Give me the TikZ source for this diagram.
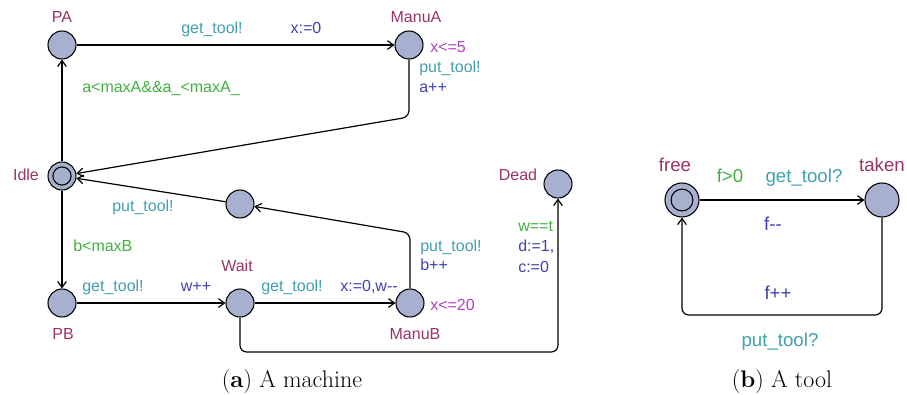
\documentclass[tikz,border=0pt]{standalone}
\usepackage{fontspec}
\usepackage{xcolor}
\newfontfamily\uppfont{Liberation Sans}
\usetikzlibrary{arrows.meta}

\definecolor{locfill}{HTML}{A8B0D0}
\definecolor{locname}{HTML}{993366}
\definecolor{synccol}{HTML}{40A0B0}
\definecolor{updcol}{HTML}{4040B0}
\definecolor{guardcol}{HTML}{40B040}
\definecolor{invcol}{HTML}{B040C0}

\begin{document}
\begin{tikzpicture}[x=0.75pt,y=-0.75pt,
  loc/.style={circle, draw=black, fill=locfill, line width=0.8pt, minimum size=21pt, inner sep=0pt},
  bigloc/.style={loc, minimum size=25.5pt},
  txt/.style={font=\uppfont\fontsize{12}{14}\selectfont, inner sep=0pt, text height=8.6pt, text depth=2.5pt},
  lname/.style={txt, text=locname},
  sync/.style={txt, text=synccol},
  upd/.style={txt, text=updcol},
  guard/.style={txt, text=guardcol},
  inv/.style={txt, text=invcol},
  caption/.style={font=\fontsize{18}{21}\selectfont},
  trans/.style={draw=black, line width=0.9pt, rounded corners=5pt, -{Straight Barb[length=4.5pt,width=6.5pt]}}]
  % Fix the page size
  \useasboundingbox (0,0) rectangle (907,394);

  % Locations of the machine
  \node[loc] (PA) at (62,45) {};
  \node[loc] (ManuA) at (409,45) {};
  \node[loc] (Idle) at (62,176) {};
  \draw[line width=0.8pt] (Idle.center) circle (6.8pt);
  \node[loc] (Back) at (240,204) {};
  \node[loc] (Dead) at (558,184) {};
  \node[loc] (PB) at (62,303) {};
  \node[loc] (Wait) at (240,303) {};
  \node[loc] (ManuB) at (410,303) {};

  \node[lname] (nPA) at (62,18) {PA};
  \node[lname] (nManuA) at (416,18) {ManuA};
  \node[lname] (nIdle) at (26,176) {Idle};
  \node[lname] (nDead) at (518,176) {Dead};
  \node[lname] (nPB) at (63,335) {PB};
  \node[lname] (nWait) at (237,267) {Wait};
  \node[lname] (nManuB) at (415,335) {ManuB};

  % Transitions of the machine
  \coordinate (kA) at (409,117);
  \coordinate (kB) at (410,233);
  \coordinate (kC) at (240,352);
  \draw[trans] (PA) -- (ManuA);
  \draw[trans] (ManuA) -- (kA) -- (Idle);
  \draw[trans] (Idle) -- (PA);
  \draw[trans] (Idle) -- (PB);
  \draw[trans] (PB) -- (Wait);
  \draw[trans] (Wait) -- (ManuB);
  \draw[trans] (ManuB) -- (kB) -- (Back);
  \draw[trans] (Back) -- (Idle);
  \draw[trans] (Wait) -- (kC) -| (Dead);

  \node[sync] (s1) at (212,29) {get\_tool!};
  \node[upd] (u1) at (306,29) {x:=0};
  \node[inv, anchor=west] (i1) at (430,48) {x<=5};
  \node[sync, anchor=west] (s2) at (419,68) {put\_tool!};
  \node[upd, anchor=west] (u2) at (419,88) {a++};
  \node[guard, anchor=west] (g1) at (82,88) {a<maxA\&\&a\_<maxA\_};
  \node[sync] (s3) at (143,207) {put\_tool!};
  \node[guard, anchor=west] (g2) at (73,247) {b<maxB};
  \node[sync] (s4) at (113,287) {get\_tool!};
  \node[upd] (u4) at (196,287) {w++};
  \node[sync] (s5) at (292,287) {get\_tool!};
  \node[upd] (u5) at (369,287) {x:=0,w--};
  \node[inv, anchor=west] (i2) at (430,306) {x<=20};
  \node[sync, anchor=west] (s6) at (420,247) {put\_tool!};
  \node[upd, anchor=west] (u6) at (420,266) {b++};
  \node[guard, anchor=west] (g3) at (518,227) {w==t};
  \node[upd, anchor=west] (u7) at (518,247) {d:=1,};
  \node[upd, anchor=west] (u8) at (518,268) {c:=0};

  % The tool
  \begin{scope}[txt/.append style={font=\uppfont\fontsize{14}{16}\selectfont, text height=10pt, text depth=3pt}]
    \node[bigloc] (free) at (682,200) {};
    \draw[line width=0.8pt] (free.center) circle (8.2pt);
    \node[bigloc] (taken) at (882,200) {};
    \node[lname] (nfree) at (675,167) {free};
    \node[lname] (ntaken) at (882,167) {taken};

    \coordinate (kT) at (882,315);
    \draw[trans] (free) -- (taken);
    \draw[trans] (taken) -- (kT) -| (free);

    \node[guard] (g4) at (730,178) {f>0};
    \node[sync] (s7) at (804,178) {get\_tool?};
    \node[upd] (u9) at (773,226) {f--};
    \node[upd] (u10) at (778,295) {f++};
    \node[sync] (s8) at (780,342) {put\_tool?};
  \end{scope}

  % Captions
  \node[caption] (capA) at (292,382) {(\textbf{a}) A machine};
  \node[caption] (capB) at (782,382) {(\textbf{b}) A tool};
\end{tikzpicture}
\end{document}
